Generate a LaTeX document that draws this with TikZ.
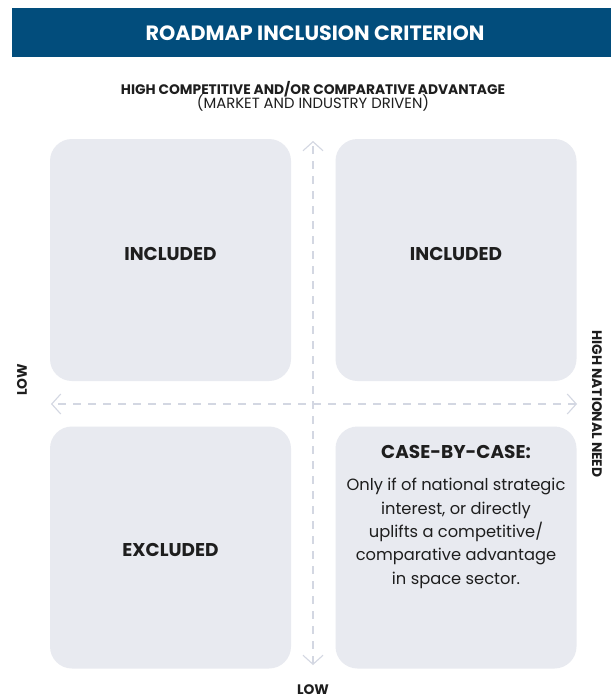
\documentclass[tikz,border=0pt]{standalone}
\usepackage{fontspec}
\setmainfont{Poppins}
\usetikzlibrary{arrows.meta}
\definecolor{banner}{HTML}{024D7C}
\definecolor{boxfill}{HTML}{E8EAF0}
\definecolor{axiscol}{HTML}{D3D7E2}
\definecolor{txt}{HTML}{1E1E1E}
\tikzset{
  quad/.style={fill=boxfill, rounded corners=22pt, minimum width=241pt, minimum height=242pt, inner sep=0pt, draw=none},
  head/.style={font=\fontsize{18.5}{22}\selectfont\bfseries, text=txt},
  axislbl/.style={font=\fontsize{13.8}{15}\selectfont\bfseries, text=txt},
  axisline/.style={draw=axiscol, line width=1.1pt, dash pattern=on 8pt off 7pt, arrows={Straight Barb[length=9pt,width=20pt,line width=1.1pt]-Straight Barb[length=9pt,width=20pt,line width=1.1pt]}},
}
\begin{document}
\begin{tikzpicture}[x=1pt,y=-1pt]
\useasboundingbox (0,0) rectangle (611,699);
\fill[white] (0,0) rectangle (611,699);
\node[fill=banner, minimum width=599pt, minimum height=49pt, inner sep=0pt, anchor=north west] (banner) at (12,8) {};
\node[text=white, font=\fontsize{20.7}{24}\selectfont\bfseries] (title) at (315,33) {ROADMAP INCLUSION CRITERION};
\node[axislbl] (top) at (313,89.5) {HIGH COMPETITIVE AND/OR COMPARATIVE ADVANTAGE};
\node[text=txt, font=\fontsize{14.8}{16}\selectfont] (top2) at (313,103) {(MARKET AND INDUSTRY DRIVEN)};
\node[quad] (tl) at (170.5,260) {};
\node[quad] (tr) at (456,260) {};
\node[quad] (bl) at (170.5,547.5) {};
\node[quad] (br) at (456,547.5) {};
\coordinate (vt) at (313,141);
\coordinate (vb) at (313,665);
\coordinate (hl) at (51,404);
\coordinate (hr) at (577,404);
\draw[axisline] (vb) -- (vt);
\draw[axisline] (hr) -- (hl);
\node[head] (t1) at (170.5,254) {INCLUDED};
\node[head] (t2) at (456,254) {INCLUDED};
\node[head] (t3) at (170.5,550) {EXCLUDED};
\node[head] (t4) at (456,452) {CASE-BY-CASE:};
\node[text=txt, font=\fontsize{16.3}{23.3}\selectfont, align=center, anchor=north] (t5) at (456,475) {Only if of national strategic\\interest, or directly\\uplifts a competitive/\\comparative advantage\\in space sector.};
\node[axislbl] (lowl) at (22,380) [rotate=90] {LOW};
\node[axislbl] (highr) at (597,404) [rotate=-90] {HIGH NATIONAL NEED};
\node[axislbl] (lowb) at (313,690) {LOW};
\end{tikzpicture}
\end{document}
